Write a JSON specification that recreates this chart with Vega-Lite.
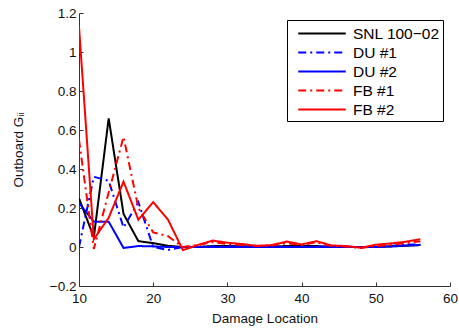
{
  "$schema": "https://vega.github.io/schema/vega-lite/v6.json",
  "width": 371,
  "height": 273,
  "autosize": {"type": "none"},
  "padding": {"left": 79, "top": 13, "right": 9, "bottom": 44},
  "background": "white",
  "config": {
    "view": {"stroke": null},
    "font": "Liberation Sans",
    "axis": {"grid": false, "domainColor": "#333", "tickColor": "#333", "labelColor": "#111", "titleColor": "#111", "labelFontSize": 13.5, "titleFontSize": 13.5, "titleFontWeight": "normal", "tickSize": -4, "domainWidth": 1, "labelFlush": false}
  },
  "datasets": {
    "d": [
      {"series": "SNL 100−02", "x": 10, "v": 0.25}, {"series": "SNL 100−02", "x": 12, "v": 0.05}, {"series": "SNL 100−02", "x": 14, "v": 0.66}, {"series": "SNL 100−02", "x": 16, "v": 0.17}, {"series": "SNL 100−02", "x": 18, "v": 0.03}, {"series": "SNL 100−02", "x": 20, "v": 0.02}, {"series": "SNL 100−02", "x": 22, "v": 0.006}, {"series": "SNL 100−02", "x": 24, "v": 0.0}, {"series": "SNL 100−02", "x": 26, "v": 0.0}, {"series": "SNL 100−02", "x": 28, "v": 0.005}, {"series": "SNL 100−02", "x": 30, "v": 0.005}, {"series": "SNL 100−02", "x": 32, "v": 0.004}, {"series": "SNL 100−02", "x": 34, "v": 0.0}, {"series": "SNL 100−02", "x": 36, "v": 0.003}, {"series": "SNL 100−02", "x": 38, "v": 0.005}, {"series": "SNL 100−02", "x": 40, "v": 0.005}, {"series": "SNL 100−02", "x": 42, "v": 0.005}, {"series": "SNL 100−02", "x": 44, "v": 0.0}, {"series": "SNL 100−02", "x": 46, "v": 0.0}, {"series": "SNL 100−02", "x": 48, "v": 0.0}, {"series": "SNL 100−02", "x": 50, "v": 0.0}, {"series": "SNL 100−02", "x": 52, "v": 0.003}, {"series": "SNL 100−02", "x": 54, "v": 0.006}, {"series": "SNL 100−02", "x": 56, "v": 0.01},
      {"series": "DU #1", "x": 10, "v": 0.0}, {"series": "DU #1", "x": 12, "v": 0.36}, {"series": "DU #1", "x": 14, "v": 0.34}, {"series": "DU #1", "x": 16, "v": 0.1}, {"series": "DU #1", "x": 18, "v": 0.23}, {"series": "DU #1", "x": 20, "v": 0.0}, {"series": "DU #1", "x": 22, "v": -0.015}, {"series": "DU #1", "x": 24, "v": 0.0}, {"series": "DU #1", "x": 26, "v": 0.0}, {"series": "DU #1", "x": 28, "v": 0.003}, {"series": "DU #1", "x": 30, "v": 0.003}, {"series": "DU #1", "x": 32, "v": 0.003}, {"series": "DU #1", "x": 34, "v": 0.0}, {"series": "DU #1", "x": 36, "v": 0.0}, {"series": "DU #1", "x": 38, "v": 0.0}, {"series": "DU #1", "x": 40, "v": 0.0}, {"series": "DU #1", "x": 42, "v": 0.003}, {"series": "DU #1", "x": 44, "v": 0.003}, {"series": "DU #1", "x": 46, "v": 0.0}, {"series": "DU #1", "x": 48, "v": 0.0}, {"series": "DU #1", "x": 50, "v": 0.0}, {"series": "DU #1", "x": 52, "v": 0.005}, {"series": "DU #1", "x": 54, "v": 0.013}, {"series": "DU #1", "x": 56, "v": 0.013},
      {"series": "DU #2", "x": 10, "v": 0.225}, {"series": "DU #2", "x": 12, "v": 0.13}, {"series": "DU #2", "x": 14, "v": 0.13}, {"series": "DU #2", "x": 16, "v": -0.005}, {"series": "DU #2", "x": 18, "v": 0.005}, {"series": "DU #2", "x": 20, "v": 0.003}, {"series": "DU #2", "x": 22, "v": 0.0}, {"series": "DU #2", "x": 24, "v": 0.0}, {"series": "DU #2", "x": 26, "v": 0.0}, {"series": "DU #2", "x": 28, "v": 0.0}, {"series": "DU #2", "x": 30, "v": 0.0}, {"series": "DU #2", "x": 32, "v": 0.0}, {"series": "DU #2", "x": 34, "v": 0.0}, {"series": "DU #2", "x": 36, "v": 0.0}, {"series": "DU #2", "x": 38, "v": 0.0}, {"series": "DU #2", "x": 40, "v": 0.0}, {"series": "DU #2", "x": 42, "v": 0.0}, {"series": "DU #2", "x": 44, "v": 0.0}, {"series": "DU #2", "x": 46, "v": 0.0}, {"series": "DU #2", "x": 48, "v": 0.0}, {"series": "DU #2", "x": 50, "v": 0.0}, {"series": "DU #2", "x": 52, "v": 0.003}, {"series": "DU #2", "x": 54, "v": 0.008}, {"series": "DU #2", "x": 56, "v": 0.01},
      {"series": "FB #1", "x": 10, "v": 0.55}, {"series": "FB #1", "x": 12, "v": -0.01}, {"series": "FB #1", "x": 14, "v": 0.28}, {"series": "FB #1", "x": 16, "v": 0.565}, {"series": "FB #1", "x": 18, "v": 0.2}, {"series": "FB #1", "x": 20, "v": 0.075}, {"series": "FB #1", "x": 22, "v": 0.055}, {"series": "FB #1", "x": 24, "v": 0.0}, {"series": "FB #1", "x": 26, "v": 0.01}, {"series": "FB #1", "x": 28, "v": 0.025}, {"series": "FB #1", "x": 30, "v": 0.015}, {"series": "FB #1", "x": 32, "v": 0.01}, {"series": "FB #1", "x": 34, "v": 0.005}, {"series": "FB #1", "x": 36, "v": 0.008}, {"series": "FB #1", "x": 38, "v": 0.02}, {"series": "FB #1", "x": 40, "v": 0.01}, {"series": "FB #1", "x": 42, "v": 0.025}, {"series": "FB #1", "x": 44, "v": 0.005}, {"series": "FB #1", "x": 46, "v": 0.003}, {"series": "FB #1", "x": 48, "v": -0.005}, {"series": "FB #1", "x": 50, "v": 0.005}, {"series": "FB #1", "x": 52, "v": 0.01}, {"series": "FB #1", "x": 54, "v": 0.02}, {"series": "FB #1", "x": 56, "v": 0.03},
      {"series": "FB #2", "x": 10, "v": 1.13}, {"series": "FB #2", "x": 12, "v": 0.04}, {"series": "FB #2", "x": 14, "v": 0.15}, {"series": "FB #2", "x": 16, "v": 0.335}, {"series": "FB #2", "x": 18, "v": 0.14}, {"series": "FB #2", "x": 20, "v": 0.23}, {"series": "FB #2", "x": 22, "v": 0.14}, {"series": "FB #2", "x": 24, "v": -0.016}, {"series": "FB #2", "x": 26, "v": 0.01}, {"series": "FB #2", "x": 28, "v": 0.033}, {"series": "FB #2", "x": 30, "v": 0.022}, {"series": "FB #2", "x": 32, "v": 0.015}, {"series": "FB #2", "x": 34, "v": 0.006}, {"series": "FB #2", "x": 36, "v": 0.01}, {"series": "FB #2", "x": 38, "v": 0.028}, {"series": "FB #2", "x": 40, "v": 0.013}, {"series": "FB #2", "x": 42, "v": 0.03}, {"series": "FB #2", "x": 44, "v": 0.008}, {"series": "FB #2", "x": 46, "v": 0.005}, {"series": "FB #2", "x": 48, "v": -0.004}, {"series": "FB #2", "x": 50, "v": 0.012}, {"series": "FB #2", "x": 52, "v": 0.018}, {"series": "FB #2", "x": 54, "v": 0.027}, {"series": "FB #2", "x": 56, "v": 0.04}
    ]
  },
  "data": {"name": "d"},
  "mark": {"type": "line", "strokeWidth": 2, "clip": true},
  "encoding": {
    "x": {"field": "x", "type": "quantitative", "scale": {"domain": [10, 60], "nice": false}, "axis": {"values": [10, 20, 30, 40, 50, 60], "title": "Damage Location", "titlePadding": 7, "labelPadding": 9}},
    "y": {"field": "v", "type": "quantitative", "scale": {"domain": [-0.2, 1.2], "nice": false, "zero": false}, "axis": {"values": [-0.2, 0, 0.2, 0.4, 0.6, 0.8, 1, 1.2], "format": "~g", "title": "Outboard Gᵢᵢ", "titlePadding": 24, "labelPadding": 7}},
    "color": {"field": "series", "type": "nominal", "scale": {"domain": ["SNL 100−02", "DU #1", "DU #2", "FB #1", "FB #2"], "range": ["#000000", "#0000ff", "#0000ff", "#ff0000", "#ff0000"]},
      "legend": {"title": null, "orient": "none", "legendX": 208, "legendY": 7, "strokeColor": "#000", "fillColor": "white", "padding": 3, "symbolType": "M-2.5,0H2.5", "symbolSize": 361, "symbolOffset": 21.5, "symbolStrokeWidth": 2, "labelFontSize": 15.5, "labelColor": "#000", "labelOffset": 20.5, "rowPadding": 0, "cornerRadius": 0}},
    "strokeDash": {"field": "series", "type": "nominal", "scale": {"domain": ["SNL 100−02", "DU #1", "DU #2", "FB #1", "FB #2"], "range": [[1, 0], [8, 4, 2, 4], [1, 0], [8, 4, 2, 4], [1, 0]]}},
    "order": {"field": "x", "type": "quantitative"}
  }
}
